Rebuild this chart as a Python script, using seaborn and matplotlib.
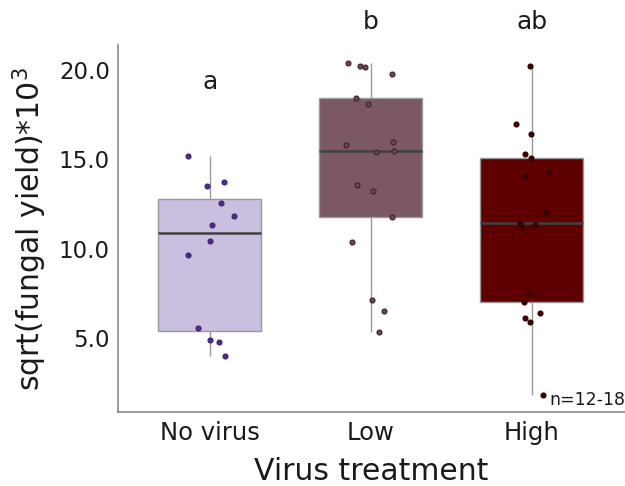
import numpy as np
import pandas as pd
import matplotlib
matplotlib.use("Agg")
import matplotlib.pyplot as plt
import seaborn as sns

# sqrt(fungal yield) * 10^3 per virus treatment
treatments = ["No virus", "Low", "High"]
no_virus = [15.17, 13.75, 13.51, 12.56, 11.85, 11.35, 10.42, 9.65, 5.58, 4.89, 4.76, 4.01]
low = [20.18, 20.42, 20.25, 19.80, 18.42, 18.13, 15.95, 15.82, 15.41, 15.49,
       13.55, 13.25, 11.78, 10.36, 7.11, 6.51, 5.34]
high = [20.21, 17.01, 16.41, 15.32, 15.07, 14.07, 14.29, 12.06, 11.16, 11.33,
        11.42, 7.53, 7.03, 6.40, 6.12, 5.91, 1.80]
letters = ["a", "b", "ab"]
y_ticks = [2.5, 5.0, 7.5, 10.0, 12.5, 15.0, 17.5, 20.0]
y_ticklabels = ["", "5.0", "", "10.0", "", "15.0", "", "20.0"]

df = pd.DataFrame({
    "treatment": (["No virus"] * len(no_virus) + ["Low"] * len(low)
                  + ["High"] * len(high)),
    "value": no_virus + low + high,
})

box_colors = {"No virus": "#cbbfe0", "Low": "#7b5862", "High": "#5f0000"}
point_colors = {"No virus": "#4e2d84", "Low": "#6a4753", "High": "#420000"}
point_edges = {"No virus": "#3e2270", "Low": "#3a2230", "High": "#2a0000"}

sns.set_style("white")
plt.rcParams["font.family"] = ["DejaVu Sans"]

fig = plt.figure(figsize=(6.25, 4.86), dpi=100)
ax = fig.add_axes([0.189, 0.152, 0.811, 0.755])

sns.boxplot(data=df, x="treatment", y="value", order=treatments,
            hue="treatment", hue_order=treatments, palette=box_colors,
            saturation=1, width=0.64, whis=np.inf, showfliers=False,
            showcaps=False, linewidth=1.0, linecolor="#999999",
            medianprops={"color": "#404040", "linewidth": 1.8},
            legend=False, ax=ax)

np.random.seed(7)
for t in treatments:
    sns.stripplot(data=df[df["treatment"] == t], x="treatment", y="value",
                  order=treatments, color=point_colors[t],
                  edgecolor=point_edges[t], linewidth=0.8, size=3.6,
                  jitter=0.16, ax=ax, zorder=3)

ax.set_xlim(-0.57, 2.58)
ax.set_ylim(0.84, 21.4)
ax.set_yticks(y_ticks)
ax.set_yticklabels(y_ticklabels)

for s in ["top", "right"]:
    ax.spines[s].set_visible(False)
for s in ["left", "bottom"]:
    ax.spines[s].set_color("#808080")
    ax.spines[s].set_linewidth(1.1)

ax.tick_params(axis="both", length=3, width=1.0, color="#808080",
               labelcolor="#1a1a1a")
ax.tick_params(axis="y", labelsize=16.5, pad=3)
ax.tick_params(axis="x", labelsize=17.5, pad=3.5)

ax.set_xlabel("Virus treatment", fontsize=21.5, color="#1a1a1a")
ax.xaxis.set_label_coords(0.5, -0.186)
ax.xaxis.label.set_verticalalignment("baseline")
ax.set_ylabel(r"sqrt(fungal yield)*10$^{3}$", fontsize=21.5, color="#1a1a1a",
              labelpad=7)

letter_y = [19.34, 22.7, 22.7]
for i, (lab, yy) in enumerate(zip(letters, letter_y)):
    ax.text(i, yy, lab, ha="center", va="center", fontsize=18,
            color="#1a1a1a", clip_on=False)

ax.text(2.58, 1.25, "n=12-18", ha="right", va="baseline", fontsize=12.5,
        color="#1a1a1a")

fig.savefig("out.png", dpi=100, facecolor="white")
